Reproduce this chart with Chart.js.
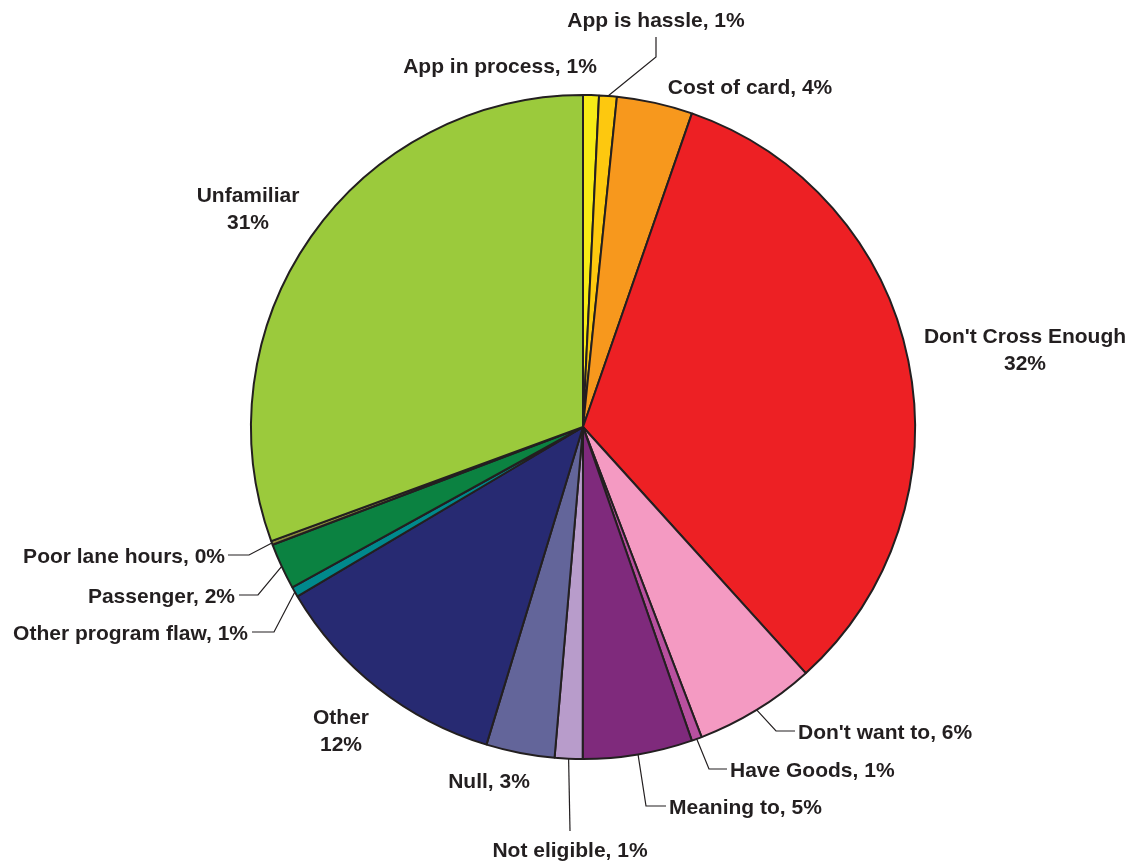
<!DOCTYPE html>
<html>
<head>
<meta charset="utf-8">
<script src="https://cdn.jsdelivr.net/npm/chart.js@4.4.1/dist/chart.umd.min.js"></script>
<style>
  html, body { margin: 0; padding: 0; background: #ffffff; }
</style>
</head>
<body>
<canvas id="pie" width="1133" height="863"></canvas>
<script>
// slices, clockwise from 12 o'clock
const categories = ['App in process', 'App is hassle', 'Cost of card', 'Don\'t Cross Enough',
  'Don\'t want to', 'Have Goods', 'Meaning to', 'Not eligible', 'Null', 'Other',
  'Other program flaw', 'Passenger', 'Poor lane hours', 'Unfamiliar'];
const values = [0.77, 0.86, 3.69, 32.97, 5.89, 0.5, 5.33, 1.35, 3.33, 11.78, 0.5, 2.25, 0.19, 30.58];
const shownPct = [1, 1, 4, 32, 6, 1, 5, 1, 3, 12, 1, 2, 0, 31];
const sliceColors = ['#f6eb16', '#fdc80f', '#f7981d', '#ed2024', '#f49ac2', '#b8509f', '#7f2a7c',
  '#b89ccb', '#63659a', '#272a72', '#00898c', '#0b8241', '#8a8a3c', '#9bca3c'];

// where each label sits; leader lines start at the slice's outer edge
const labelLayout = [
  { x: 500, y: 65, align: 'center' },
  { x: 656, y: 19, align: 'center', leader: [[656, 57], [656, 37]] },
  { x: 750, y: 86, align: 'center' },
  { x: 1025, y: 335, align: 'center', twoLine: true },
  { x: 798, y: 731, align: 'left', leader: [[776, 731], [795, 731]] },
  { x: 730, y: 769, align: 'left', leader: [[709, 769], [727, 769]] },
  { x: 669, y: 806, align: 'left', leader: [[646, 806], [666, 806]] },
  { x: 570, y: 849, align: 'center', leader: [[570, 831]] },
  { x: 489, y: 780, align: 'center' },
  { x: 341, y: 716, align: 'center', twoLine: true },
  { x: 248, y: 632, align: 'right', leader: [[274, 632], [252, 632]] },
  { x: 235, y: 595, align: 'right', leader: [[258, 595], [239, 595]] },
  { x: 225, y: 555, align: 'right', leader: [[249, 555], [228, 555]] },
  { x: 248, y: 194, align: 'center', twoLine: true }
];

const ink = '#231f20';

const pieLabels = {
  id: 'pieLabels',
  afterDatasetsDraw(chart) {
    const ctx = chart.ctx;
    const arcs = chart.getDatasetMeta(0).data;
    ctx.save();
    ctx.font = 'bold 21px "Liberation Sans", Arial, sans-serif';
    ctx.fillStyle = ink;
    ctx.strokeStyle = ink;
    ctx.lineWidth = 1.2;
    ctx.textBaseline = 'alphabetic';
    labelLayout.forEach((lay, i) => {
      const a = arcs[i].getProps(['x', 'y', 'startAngle', 'endAngle', 'outerRadius'], true);
      const mid = (a.startAngle + a.endAngle) / 2;
      if (lay.leader) {
        ctx.beginPath();
        ctx.moveTo(a.x + a.outerRadius * Math.cos(mid), a.y + a.outerRadius * Math.sin(mid));
        lay.leader.forEach(p => ctx.lineTo(p[0], p[1]));
        ctx.stroke();
      }
      ctx.textAlign = lay.align;
      if (lay.twoLine) {
        ctx.fillText(categories[i], lay.x, lay.y + 7.5);
        ctx.fillText(shownPct[i] + '%', lay.x, lay.y + 27 + 7.5);
      } else {
        ctx.fillText(categories[i] + ', ' + shownPct[i] + '%', lay.x, lay.y + 7.5);
      }
    });
    ctx.restore();
  }
};

new Chart(document.getElementById('pie'), {
  type: 'pie',
  data: {
    labels: categories,
    datasets: [{
      data: values,
      backgroundColor: sliceColors,
      borderColor: ink,
      borderWidth: 2,
      radius: 332
    }]
  },
  options: {
    responsive: false,
    animation: false,
    events: [],
    layout: { padding: { left: 33, right: 0, top: 0, bottom: 9 } },
    plugins: {
      legend: { display: false },
      tooltip: { enabled: false }
    }
  },
  plugins: [pieLabels]
});
</script>
</body>
</html>
